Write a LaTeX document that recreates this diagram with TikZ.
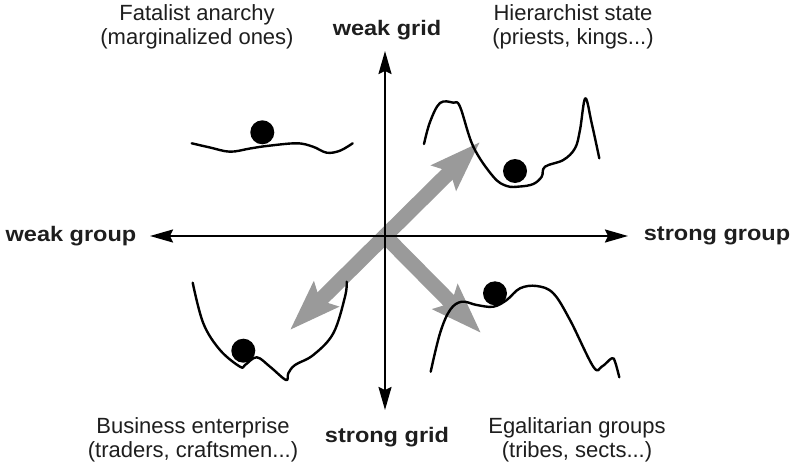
\documentclass[tikz,border=0pt]{standalone}
\usepackage{fontspec}
\setmainfont{Liberation Sans}
\newfontfamily\lblfont{Liberation Sans}[FakeStretch=1.0]
\newfontfamily\axfont{Liberation Sans}[FakeStretch=1.12]
\usetikzlibrary{arrows.meta}
\definecolor{arrowgray}{HTML}{9A9A9A}
\definecolor{textdark}{HTML}{1E1E1E}
\tikzset{
  axis/.style={line width=2pt, black, {Stealth[length=23pt,width=13pt,inset=3pt]}-{Stealth[length=23pt,width=13pt,inset=3pt]}},
  grayarrow/.style={line width=15pt, arrowgray, -{Stealth[length=50pt,width=34pt,inset=8pt]}},
  landscape/.style={line width=2.4pt, black, line cap=round, line join=round},
  ball/.style={circle, fill=black, inner sep=0pt, minimum size=24pt},
  grouplabel/.style={align=center, inner sep=0pt, text=textdark, font=\lblfont\fontsize{22}{23.5}\selectfont},
  axislabel/.style={inner sep=0pt, text=textdark, font=\axfont\bfseries\fontsize{21}{24}\selectfont}
}
\begin{document}
\begin{tikzpicture}[x=1pt,y=-1pt]
\useasboundingbox (0,0) rectangle (791,465);
% reference coordinates
\coordinate (c) at (385,236);
\coordinate (ne) at (480,142);
\coordinate (sw) at (290,330);
\coordinate (se) at (481,333);
\coordinate (top) at (385,51);
\coordinate (bot) at (385,410);
\coordinate (lft) at (150,236);
\coordinate (rgt) at (628,236);
% grey arrows
\draw[grayarrow] (c) -- (ne);
\draw[grayarrow] (c) -- (sw);
\draw[grayarrow] (c) -- (se);
% axes
\draw[axis] (bot) -- (top);
\draw[axis] (lft) -- (rgt);
% landscapes
\draw[landscape] plot[smooth, tension=0.6] coordinates {(191.7,143.3) (210,147.5) (230,151.7) (250,148.5) (266.7,146) (296.7,143.3) (313,146.7) (326.7,152.7) (340,150.7) (352.7,143.3)};
\node[ball] (b1) at (262.3,132.3) {};
\draw[landscape] plot[smooth, tension=0.6] coordinates {(424,144) (430,122) (440,103) (453.3,102.7) (460,106.7) (473.3,146.7) (493.3,176.7) (506.7,186) (520,186.5) (533.3,184) (541.7,176.7) (545,166.7) (563.3,160) (575,148.3) (580,130) (585.3,98.3) (591.7,123.3) (599.3,158.3)};
\node[ball] (b2) at (515,171) {};
\draw[landscape] plot[smooth, tension=0.6] coordinates {(192.7,282.7) (203.3,323.3) (220,350) (240,366.7) (245,365) (256.7,357.3) (270,366.7) (286,380) (288.3,373.3) (295,365) (313.3,355) (333.3,333.3) (345,296.7) (346.7,281.7)};
\node[ball] (b3) at (243.3,350.7) {};
\draw[landscape] plot[smooth, tension=0.6] coordinates {(430.7,371.7) (440,333.3) (450,310) (461.7,301.7) (476.7,305) (493.3,306.7) (506.7,300) (520,288.3) (536.7,286) (553.3,293.3) (570,320) (593.3,366.7) (601.7,366.7) (611.7,358.3) (615,361.7) (619.3,377.3)};
\node[ball] (b4) at (495,293.3) {};
% labels
\node[grouplabel] (fat) at (197,27) {Fatalist anarchy\\(marginalized ones)};
\node[grouplabel] (hier) at (573,27) {Hierarchist state\\(priests, kings...)};
\node[grouplabel] (bus) at (193,440) {Business enterprise\\(traders, craftsmen...)};
\node[grouplabel] (ega) at (577,440) {Egalitarian groups\\(tribes, sects...)};
\node[axislabel] (wgrid) at (387,30) {weak grid};
\node[axislabel] (sgrid) at (387,437) {strong grid};
\node[axislabel] (wgroup) at (71,236) {weak group};
\node[axislabel] (sgroup) at (717,236) {strong group};
\end{tikzpicture}
\end{document}
